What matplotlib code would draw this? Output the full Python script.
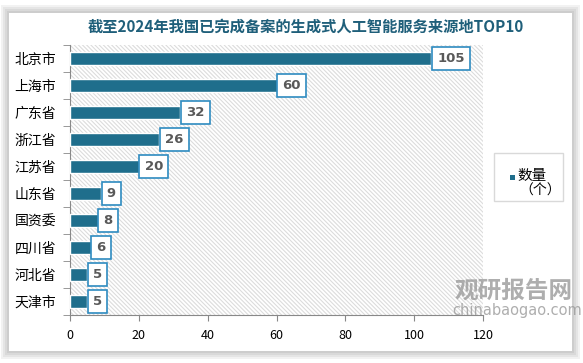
import matplotlib.pyplot as plt
from matplotlib.patches import Rectangle

plt.rcParams['font.family'] = ['Noto Sans CJK SC', 'DejaVu Sans']
plt.rcParams['hatch.linewidth'] = 0.8

regions = ['北京市', '上海市', '广东省', '浙江省', '江苏省', '山东省', '国资委', '四川省', '河北省', '天津市']
counts = [105, 60, 32, 26, 20, 9, 8, 6, 5, 5]
xticks = [0, 20, 40, 60, 80, 100, 120]

W, H = 583, 363
fig = plt.figure(figsize=(W / 100, H / 100), dpi=100)
fig.patch.set_facecolor('white')

# card with soft shadow
for i in range(4):
    d = (4 - i) * 2
    fig.patches.append(Rectangle(((9 - d) / W, 1 - (351 + d) / H), (563 + 2 * d) / W, (338 + 2 * d) / H,
                                 transform=fig.transFigure, facecolor='black', alpha=0.05, lw=0, zorder=-3))
fig.patches.append(Rectangle((9 / W, 1 - 351 / H), 563 / W, 338 / H, transform=fig.transFigure,
                             facecolor='white', lw=0, zorder=-2))

ax = fig.add_axes([70 / W, 1 - 315 / H, 413 / W, 270 / H])
ax.set_facecolor('none')
ax.add_patch(Rectangle((0, 0), 1, 1, transform=ax.transAxes, facecolor='white',
                       edgecolor='#dcdcdc', hatch='\\' * 8, lw=0, zorder=0))

y = list(range(len(regions)))[::-1]
ax.barh(y, counts, height=0.45, color='#1f6e8c', edgecolor='white', lw=1, zorder=3)
for yi, c in zip(y, counts):
    ax.text(c + 1.7, yi, str(c), ha='left', va='center', fontsize=9.5, fontweight='bold',
            color='#595959', zorder=4, family='DejaVu Sans',
            bbox=dict(boxstyle='square,pad=0.4', fc='white', ec='#2e8bc0', lw=1.2))

ax.set_xlim(0, 120)
ax.set_ylim(-0.5, len(regions) - 0.5)
ax.set_xticks(xticks)
ax.set_yticks(y)
ax.set_yticklabels(regions, fontsize=10)
ax.set_yticks([i + 0.5 for i in range(-1, len(regions))], minor=True)
ax.tick_params(axis='y', which='major', length=0, pad=10)
ax.tick_params(axis='y', which='minor', length=5, color='#888888', direction='out')
ax.tick_params(axis='x', length=4, color='#888888', labelsize=9, pad=6)
for s in ['top', 'right']:
    ax.spines[s].set_visible(False)
for s in ['left', 'bottom']:
    ax.spines[s].set_color('#888888')

fig.text(306 / W, 1 - 27 / H, '截至2024年我国已完成备案的生成式人工智能服务来源地TOP10',
         ha='center', va='center', fontsize=11, fontweight='bold', color='#1f5f7a')

# legend
fig.patches.append(Rectangle((494 / W, 1 - 201 / H), 69 / W, 48 / H, transform=fig.transFigure,
                             facecolor='white', edgecolor='#d9d9d9', lw=1, zorder=2))
fig.patches.append(Rectangle((510 / W, 1 - 180 / H), 5 / W, 5 / H, transform=fig.transFigure,
                             facecolor='#1f6e8c', lw=0, zorder=3))
fig.text(517 / W, 1 - 176 / H, '数量', fontsize=10.5, va='center', ha='left')
fig.text(519 / W, 1 - 191 / H, '（个）', fontsize=10, va='center', ha='left')

# watermark
fig.text(455 / W, 1 - 291 / H, '观研报告网', fontsize=17, fontweight='bold', color='#9a9a9a',
         alpha=0.8, ha='left', va='center')
fig.text(452 / W, 1 - 311 / H, 'chinabaogao.com', fontsize=10.5, color='#9a9a9a',
         alpha=0.8, ha='left', va='center', family='DejaVu Sans')

fig.savefig('out.png', dpi=100)
